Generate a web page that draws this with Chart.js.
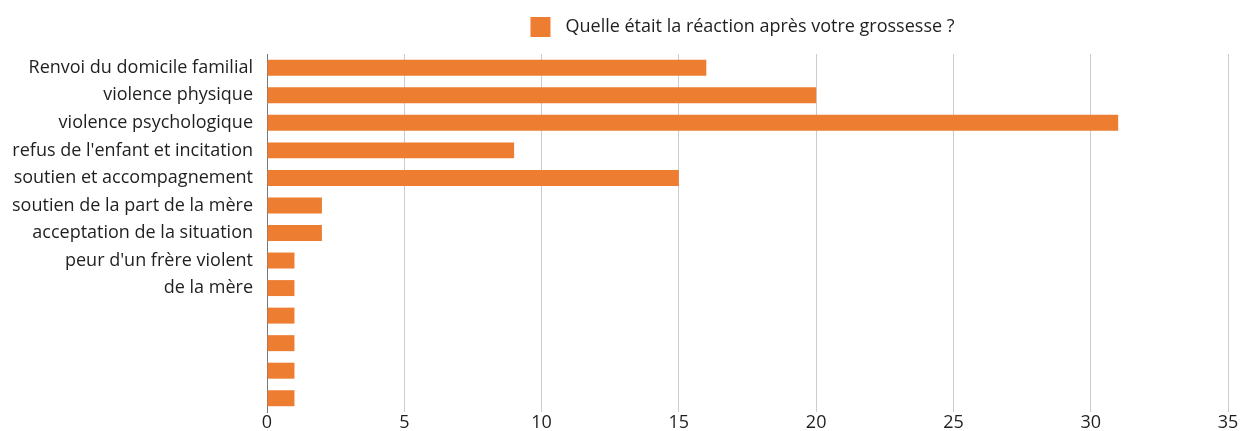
<!DOCTYPE html>
<html>
<head>
<meta charset="utf-8">
<script src="https://cdn.jsdelivr.net/npm/chart.js@4.4.0/dist/chart.umd.min.js"></script>
<style>
  html, body { margin: 0; padding: 0; background: #fff; }
  #wrap { width: 1240px; height: 431px; position: relative; }
</style>
</head>
<body>
<div id="wrap"><canvas id="c" width="1240" height="431"></canvas></div>
<script>
const categories = [
  "Renvoi du domicile familial",
  "violence physique",
  "violence psychologique",
  "refus de l'enfant et incitation",
  "soutien et accompagnement",
  "soutien de la part de la mère",
  "acceptation de la situation",
  "peur d'un frère violent",
  "de la mère",
  "", "", "", ""
];
const values = [16, 20, 31, 9, 15, 2, 2, 1, 1, 1, 1, 1, 1];
const seriesLabel = "Quelle était la réaction après votre grossesse ?";
const xMin = 0, xMax = 35, xStep = 5;

const FONT = "'Open Sans', 'Noto Sans', sans-serif";
const FS = 18;
const ORANGE = "#ED7D31";
const TEXT = "#1f1f1f";

const legendPlugin = {
  id: 'customLegend',
  afterDraw(chart) {
    const ctx = chart.ctx;
    const ca = chart.chartArea;
    ctx.save();
    ctx.font = FS + "px " + FONT;
    const label = chart.data.datasets[0].label;
    const tw = ctx.measureText(label).width;
    const box = 20, gap = 15;
    const total = box + gap + tw;
    const cx = (ca.left + ca.right) / 2 - 5;
    const x0 = cx - total / 2;
    const y = 27;
    ctx.fillStyle = chart.data.datasets[0].backgroundColor;
    ctx.fillRect(x0, y - box / 2, box, box);
    ctx.fillStyle = TEXT;
    ctx.textBaseline = 'middle';
    ctx.textAlign = 'left';
    ctx.fillText(label, x0 + box + gap, y);
    ctx.restore();
  }
};

new Chart(document.getElementById('c'), {
  type: 'bar',
  data: {
    labels: categories,
    datasets: [{
      label: seriesLabel,
      data: values,
      backgroundColor: ORANGE,
      borderWidth: 0,
      categoryPercentage: 1,
      barPercentage: 0.58
    }]
  },
  options: {
    indexAxis: 'y',
    responsive: false,
    animation: false,
    devicePixelRatio: 1,
    layout: { padding: { top: 54, right: 12, left: 0, bottom: 0 } },
    plugins: {
      legend: { display: false },
      tooltip: { enabled: false }
    },
    scales: {
      x: {
        min: xMin, max: xMax,
        ticks: { stepSize: xStep, color: TEXT, font: { family: FONT, size: FS }, padding: 0 },
        grid: { color: '#cccccc', drawTicks: false, lineWidth: 1 },
        border: { display: false },
        afterFit(scale) { scale.height = 19; }
      },
      y: {
        ticks: { color: TEXT, font: { family: FONT, size: FS }, padding: 6, autoSkip: false },
        grid: { display: false },
        border: { display: true, color: '#777777', width: 1 },
        afterFit(scale) { scale.width = 267; }
      }
    }
  },
  plugins: [legendPlugin]
});
</script>
</body>
</html>
